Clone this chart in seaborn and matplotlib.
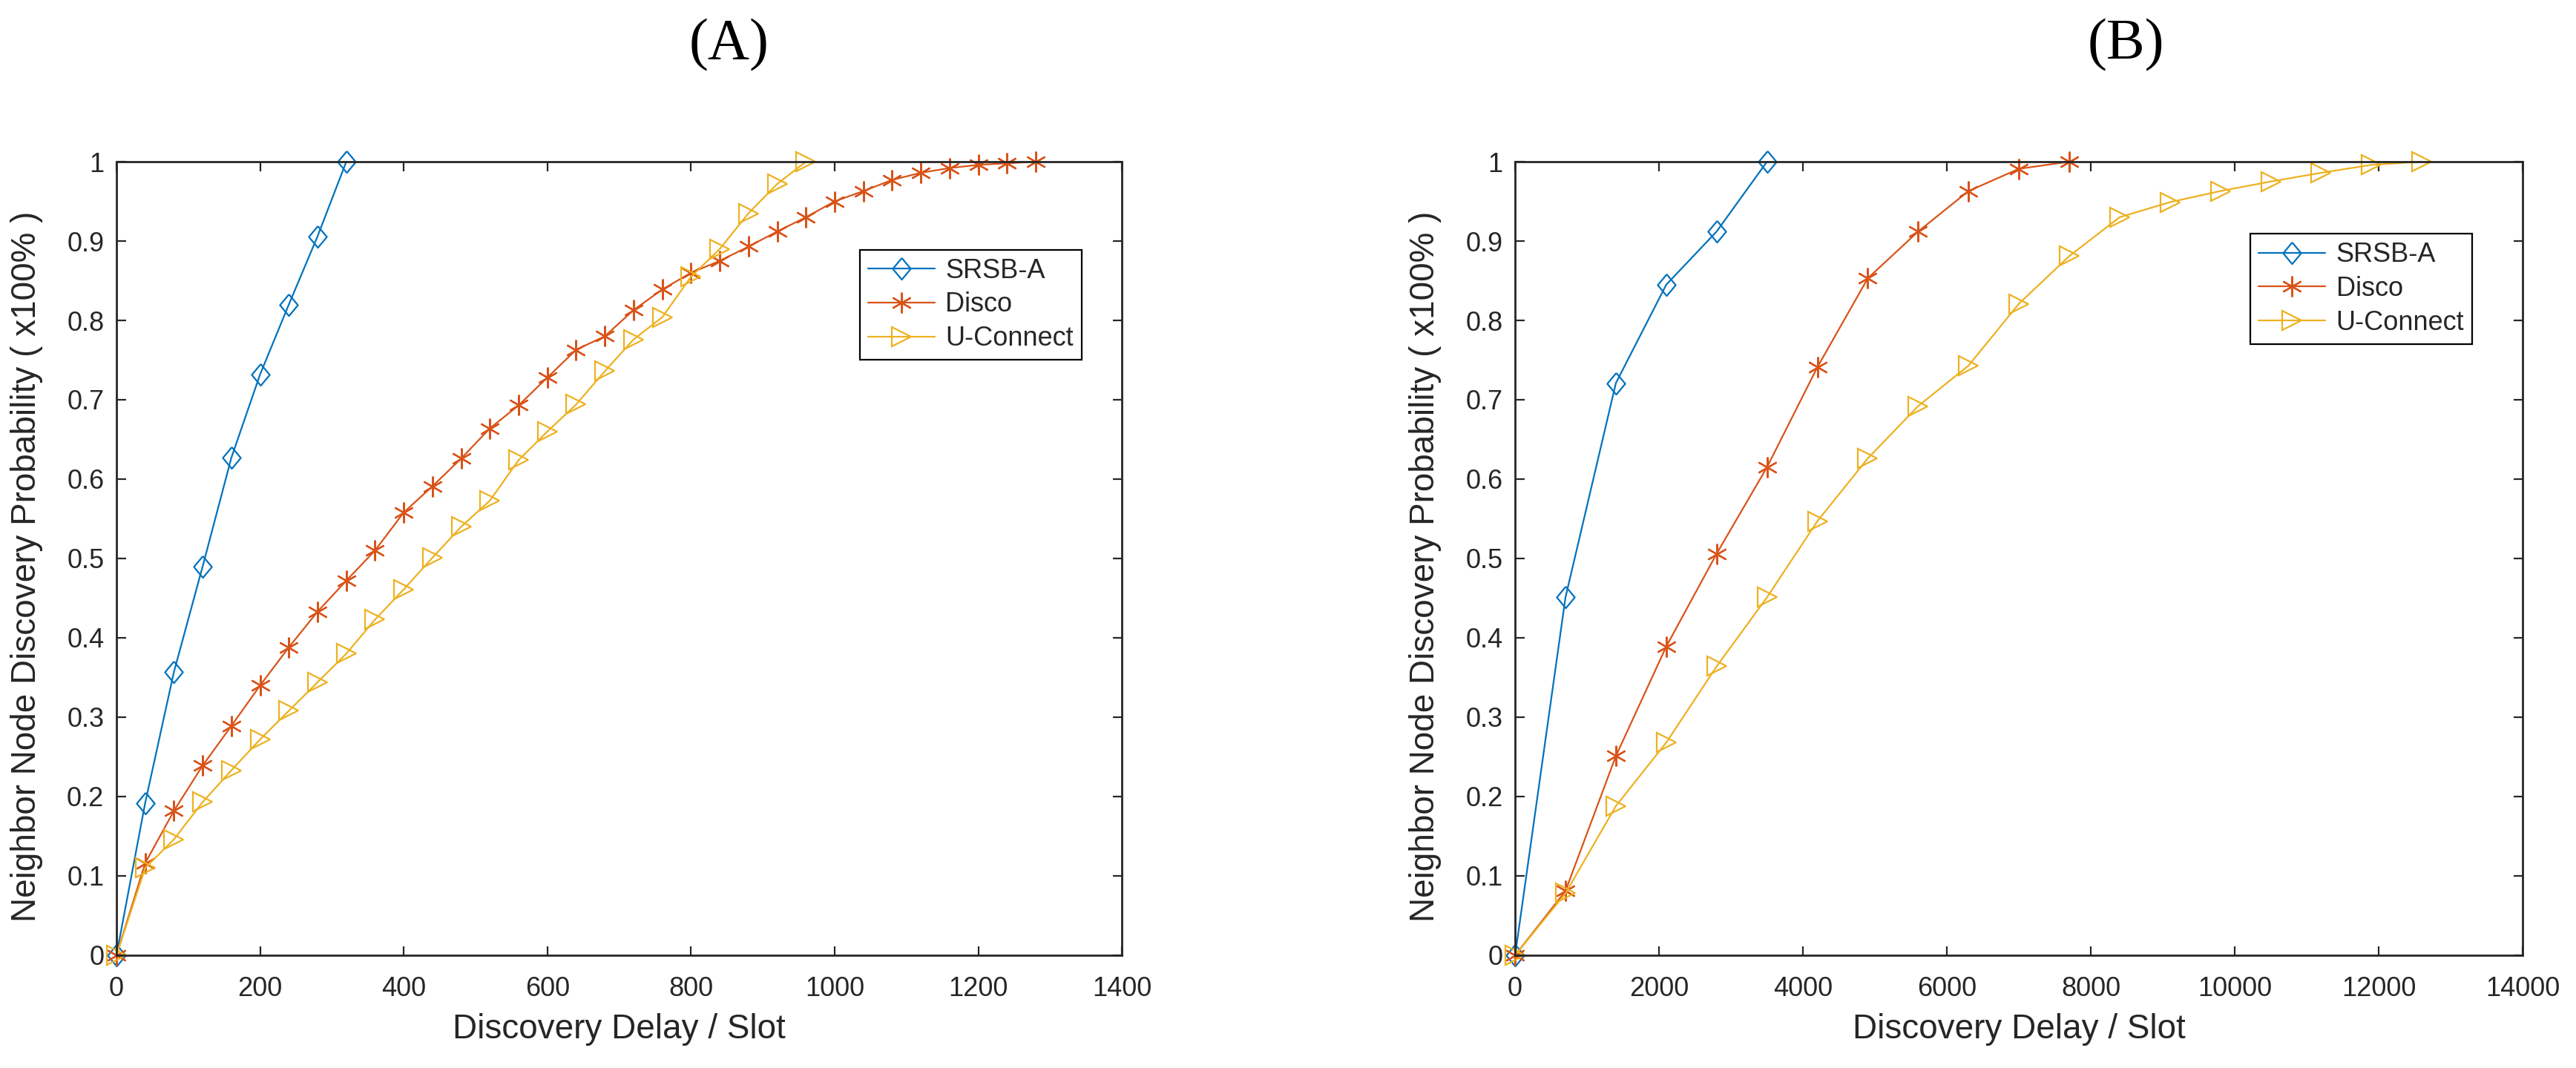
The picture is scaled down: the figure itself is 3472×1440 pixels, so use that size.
import pandas as pd
import matplotlib
matplotlib.use("Agg")
import matplotlib.pyplot as plt
import seaborn as sns

# ---- data ----
# panel (A)
srsb_a_x = [0, 40, 80, 120, 160, 200, 240, 280, 320]
srsb_a_y = [0, 0.192, 0.357, 0.490, 0.627, 0.732, 0.820, 0.906, 1.0]

disco_a_x = [0, 40, 80, 120, 160, 200, 240, 280, 320, 360, 400, 440, 480, 520, 560, 600,
             640, 680, 720, 760, 800, 840, 880, 920, 960, 1000, 1040, 1080, 1120, 1160,
             1200, 1240, 1280]
disco_a_y = [0, 0.116, 0.182, 0.239, 0.289, 0.340, 0.388, 0.433, 0.472, 0.510, 0.558,
             0.591, 0.626, 0.664, 0.693, 0.728, 0.763, 0.780, 0.813, 0.839, 0.860, 0.875,
             0.893, 0.912, 0.930, 0.950, 0.963, 0.977, 0.986, 0.992, 0.996, 0.998, 1.0]

uconnect_a_x = [0, 40, 80, 120, 160, 200, 240, 280, 320, 360, 400, 440, 480, 520, 560,
                600, 640, 680, 720, 760, 800, 840, 880, 920, 960]
uconnect_a_y = [0, 0.110, 0.146, 0.193, 0.233, 0.272, 0.308, 0.344, 0.380, 0.423, 0.461,
                0.501, 0.540, 0.573, 0.624, 0.660, 0.694, 0.736, 0.776, 0.804, 0.855,
                0.890, 0.935, 0.972, 1.0]

# panel (B)
srsb_b_x = [0, 700, 1400, 2100, 2800, 3500]
srsb_b_y = [0, 0.451, 0.721, 0.845, 0.912, 1.0]

disco_b_x = [0, 700, 1400, 2100, 2800, 3500, 4200, 4900, 5600, 6300, 7000, 7700]
disco_b_y = [0, 0.081, 0.251, 0.389, 0.506, 0.615, 0.741, 0.853, 0.912, 0.963, 0.991, 1.0]

uconnect_b_x = [0, 700, 1400, 2100, 2800, 3500, 4200, 4900, 5600, 6300, 7000, 7700,
                8400, 9100, 9800, 10500, 11200, 11900, 12600]
uconnect_b_y = [0, 0.078, 0.188, 0.268, 0.364, 0.451, 0.547, 0.626, 0.692, 0.743, 0.821,
                0.881, 0.930, 0.949, 0.963, 0.975, 0.986, 0.996, 1.0]

x_ticks_a = [0, 200, 400, 600, 800, 1000, 1200, 1400]
x_ticks_b = [0, 2000, 4000, 6000, 8000, 10000, 12000, 14000]
y_ticks = [0, 0.1, 0.2, 0.3, 0.4, 0.5, 0.6, 0.7, 0.8, 0.9, 1]
y_tick_labels = ["0", "0.1", "0.2", "0.3", "0.4", "0.5", "0.6", "0.7", "0.8", "0.9", "1"]

# ---- style ----
sns.set_theme(style="ticks")
plt.rcParams["font.family"] = ["Liberation Sans", "DejaVu Sans"]

C_BLUE = "#0072BD"
C_ORANGE = "#D95319"
C_YELLOW = "#EDB120"
TXT = "#262626"

# MATLAB-like diamond: a bit taller than wide
diamond = [(0, 1), (0.83, 0), (0, -1), (-0.83, 0), (0, 1)]

series_style = {
    "SRSB-A": dict(color=C_BLUE, marker=diamond, markersize=21),
    "Disco": dict(color=C_ORANGE, marker=(6, 2, 0), markersize=20),
    "U-Connect": dict(color=C_YELLOW, marker=">", markersize=19),
}


def draw_panel(ax, data, xticks, xmax, legend_anchor):
    for name, xs, ys in data:
        df = pd.DataFrame({"delay": xs, "prob": ys})
        st = series_style[name]
        sns.lineplot(data=df, x="delay", y="prob", ax=ax, label=name,
                     color=st["color"], linewidth=1.6,
                     marker=st["marker"], markersize=st["markersize"],
                     markerfacecolor="none", markeredgecolor=st["color"],
                     markeredgewidth=1.6, clip_on=False)
    ax.set_xlim(0, xmax)
    ax.set_ylim(0, 1)
    ax.set_xticks(xticks)
    ax.set_xticklabels([str(t) for t in xticks])
    ax.set_yticks(y_ticks)
    ax.set_yticklabels(y_tick_labels)
    for sp in ax.spines.values():
        sp.set_visible(True)
        sp.set_linewidth(2.0)
        sp.set_color(TXT)
    ax.tick_params(axis="both", direction="in", top=True, right=True,
                   length=9, width=1.6, labelsize=26, colors=TXT)
    ax.tick_params(axis="x", pad=20)
    ax.tick_params(axis="y", pad=12)
    ax.set_xlabel("Discovery Delay / Slot", fontsize=33, color=TXT)
    ax.set_ylabel("Neighbor Node Discovery Probability ( x100% )", fontsize=33, color=TXT)
    ax.xaxis.set_label_coords(0.5, -0.073)
    ax.yaxis.set_label_coords(-0.073, 0.49)
    leg = ax.legend(loc="upper right", bbox_to_anchor=legend_anchor, fontsize=26,
                    frameon=True, fancybox=False, framealpha=1, edgecolor="#000000",
                    handlelength=2.5, handletextpad=0.4, labelspacing=0.3,
                    borderpad=0.3, borderaxespad=0)
    leg.get_frame().set_linewidth(1.6)


fig = plt.figure(figsize=(34.73, 14.4), dpi=100)
ax_a = fig.add_axes([0.0452, 0.1056, 0.3902, 0.7430])
ax_b = fig.add_axes([0.5880, 0.1056, 0.3910, 0.7430])

draw_panel(ax_a,
           [("SRSB-A", srsb_a_x, srsb_a_y),
            ("Disco", disco_a_x, disco_a_y),
            ("U-Connect", uconnect_a_x, uconnect_a_y)],
           x_ticks_a, 1400, (0.96, 0.889))
draw_panel(ax_b,
           [("SRSB-A", srsb_b_x, srsb_b_y),
            ("Disco", disco_b_x, disco_b_y),
            ("U-Connect", uconnect_b_x, uconnect_b_y)],
           x_ticks_b, 14000, (0.95, 0.909))

fig.text(0.283, 0.958, "(A)", ha="center", va="center", fontsize=56,
         family=["Liberation Serif", "DejaVu Serif"], color="black")
fig.text(0.825, 0.958, "(B)", ha="center", va="center", fontsize=56,
         family=["Liberation Serif", "DejaVu Serif"], color="black")

fig.savefig("out.png", dpi=100, facecolor="white")
